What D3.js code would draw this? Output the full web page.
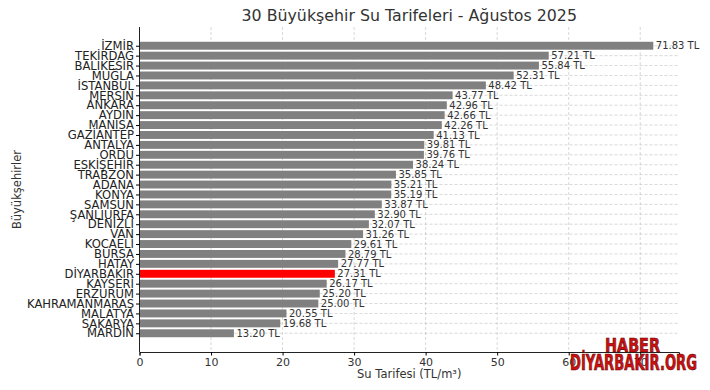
<!DOCTYPE html>
<html><head><meta charset="utf-8">
<script src="https://cdn.jsdelivr.net/npm/d3@7"></script>
<style>body{margin:0;background:#fff}svg{display:block}</style>
</head><body>
<svg id="c" width="710" height="390"></svg>
<script>
const cities = ["İZMİR","TEKİRDAĞ","BALIKESİR","MUĞLA","İSTANBUL","MERSİN","ANKARA","AYDIN","MANİSA","GAZİANTEP","ANTALYA","ORDU","ESKİŞEHİR","TRABZON","ADANA","KONYA","SAMSUN","ŞANLIURFA","DENİZLİ","VAN","KOCAELİ","BURSA","HATAY","DİYARBAKIR","KAYSERİ","ERZURUM","KAHRAMANMARAŞ","MALATYA","SAKARYA","MARDİN"];
const tariffs = [71.83,57.21,55.84,52.31,48.42,43.77,42.96,42.66,42.26,41.13,39.81,39.76,38.24,35.85,35.21,35.19,33.87,32.90,32.07,31.26,29.61,28.79,27.77,27.31,26.17,25.20,25.00,20.55,19.68,13.20];
const xTicks = [0,10,20,30,40,50,60,70];
const highlight = "DİYARBAKIR";
const titleText = "30 Büyükşehir Su Tarifeleri - Ağustos 2025";
const xLabel = "Su Tarifesi (TL/m³)";
const yLabel = "Büyükşehirler";

const svg = d3.select("#c");
const font = "DejaVu Sans, sans-serif";
const L = 139.5, R = 679, T = 27, B = 352;
const n = cities.length;
const x = d3.scaleLinear().domain([0, d3.max(tariffs)*1.05]).range([L, R]);
const y = d3.scaleLinear().domain([-1.89, n - 1 + 1.89]).range([B, T]);
const pos = i => y(n - 1 - i);
const bh = Math.abs(y(0.4) - y(-0.4));

const g = svg.append("g");
g.selectAll(".vg").data(xTicks).join("line")
  .attr("x1", d => x(d)).attr("x2", d => x(d)).attr("y1", T).attr("y2", B)
  .attr("stroke", "#b0b0b0").attr("stroke-width", 0.8).attr("stroke-dasharray", "3,2").attr("opacity", 0.6);
g.selectAll(".hg").data(cities).join("line")
  .attr("x1", L).attr("x2", R).attr("y1", (d,i) => pos(i)).attr("y2", (d,i) => pos(i))
  .attr("stroke", "#b0b0b0").attr("stroke-width", 0.8).attr("stroke-dasharray", "3,2").attr("opacity", 0.6);

g.selectAll(".bar").data(cities).join("rect")
  .attr("x", x(0)).attr("y", (d,i) => pos(i) - bh/2)
  .attr("width", (d,i) => x(tariffs[i]) - x(0)).attr("height", bh)
  .attr("fill", d => d === highlight ? "#ff0000" : "#808080");

g.selectAll(".val").data(cities).join("text")
  .attr("x", (d,i) => x(tariffs[i]) + 2.5).attr("y", (d,i) => pos(i)).attr("dy", "0.36em")
  .attr("font-family", font).attr("font-size", 10).attr("fill", "#333")
  .text((d,i) => tariffs[i].toFixed(2) + " TL");

const xa = svg.append("g").attr("transform", `translate(0,${B})`)
  .call(d3.axisBottom(x).tickValues(xTicks).tickSize(3.5).tickPadding(3).tickFormat(d3.format("d")));
xa.select(".domain").attr("stroke", "#222").attr("stroke-width", 1);
xa.selectAll("text").attr("font-family", font).attr("font-size", 11).attr("fill", "#333");

const yScaleBand = d3.scaleOrdinal().domain(cities).range(cities.map((d,i) => pos(i)));
const ya = svg.append("g").attr("transform", `translate(${L},0)`)
  .call(d3.axisLeft(yScaleBand).tickSize(3.5).tickPadding(2));
ya.select(".domain").attr("d", `M0,${T}V${B}`).attr("stroke", "#222").attr("stroke-width", 1);
ya.selectAll("text").attr("font-family", font).attr("font-size", 11.6).attr("fill", "#222");

svg.append("text").attr("x", (L+R)/2).attr("y", 21).attr("text-anchor", "middle")
  .attr("font-family", font).attr("font-size", 15.8).attr("fill", "#333").text(titleText);
svg.append("text").attr("x", (L+R)/2).attr("y", 378).attr("text-anchor", "middle")
  .attr("font-family", font).attr("font-size", 11.5).attr("fill", "#333").text(xLabel);
svg.append("text").attr("transform", `translate(21,${(T+B)/2}) rotate(-90)`).attr("text-anchor", "middle")
  .attr("font-family", font).attr("font-size", 11.5).attr("fill", "#333").text(yLabel);

const wm = svg.append("g").attr("font-family", "DejaVu Sans Condensed, DejaVu Sans, sans-serif")
  .attr("font-weight", "bold").attr("fill", "#cc1111").attr("stroke", "#5a0000").attr("stroke-width", 0.6)
  .attr("text-anchor", "middle");
wm.append("text").attr("x", 632.5).attr("y", 352).attr("font-size", 19.5)
  .attr("textLength", 55).attr("lengthAdjust", "spacingAndGlyphs").text("HABER");
wm.append("text").attr("x", 633.5).attr("y", 370).attr("font-size", 20.5)
  .attr("textLength", 127).attr("lengthAdjust", "spacingAndGlyphs").text("DİYARBAKIR.ORG");
</script>
</body></html>
